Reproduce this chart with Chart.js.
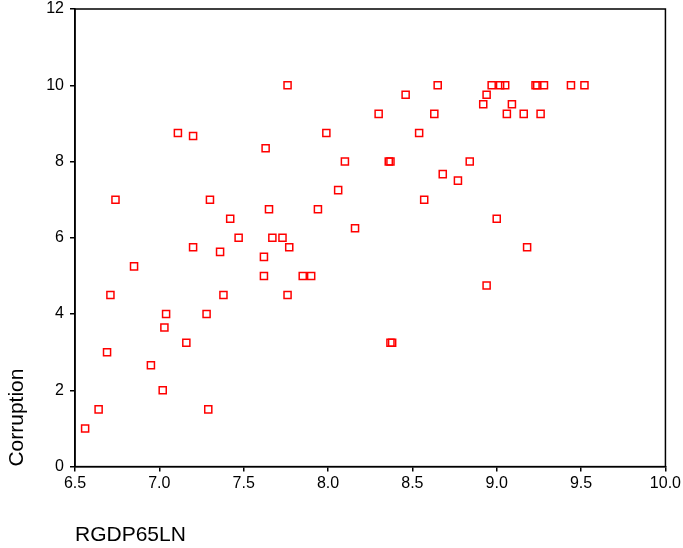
<!DOCTYPE html>
<html>
<head>
<meta charset="utf-8">
<script src="https://cdn.jsdelivr.net/npm/chart.js@4"></script>
<style>
  html,body{margin:0;padding:0;background:#fff;}
  #wrap{width:683px;height:548px;}
</style>
</head>
<body>
<div id="wrap"><canvas id="scatter"></canvas></div>
<script>
// RGDP65LN (x) vs Corruption (y)
const gdp = [6.56, 6.64, 6.69, 6.71, 6.74, 6.85, 6.95, 7.02, 7.03, 7.04, 7.11, 7.16, 7.20, 7.20,
  7.28, 7.29, 7.30, 7.36, 7.38, 7.42, 7.47, 7.62, 7.62, 7.63, 7.65, 7.67, 7.73, 7.76, 7.76, 7.77,
  7.85, 7.90, 7.94, 7.99, 8.06, 8.10, 8.16, 8.30, 8.36, 8.37, 8.37, 8.38, 8.46, 8.54, 8.57, 8.63,
  8.65, 8.68, 8.77, 8.84, 8.92, 8.94, 8.94, 8.97, 9.00, 9.02, 9.05, 9.06, 9.09, 9.16, 9.18, 9.23,
  9.24, 9.26, 9.28, 9.44, 9.52];
const corruption = [1.0, 1.5, 3.0, 4.5, 7.0, 5.25, 2.66, 2.0, 3.65, 4.0, 8.75, 3.25, 8.67, 5.75,
  4.0, 1.5, 7.0, 5.63, 4.5, 6.5, 6.0, 5.5, 5.0, 8.35, 6.75, 6.0, 6.0, 10.0, 4.5, 5.75,
  5.0, 5.0, 6.75, 8.75, 7.25, 8.0, 6.25, 9.25, 8.0, 8.0, 3.25, 3.25, 9.75, 8.75, 7.0, 9.25,
  10.0, 7.67, 7.5, 8.0, 9.5, 9.75, 4.75, 10.0, 6.5, 10.0, 10.0, 9.25, 9.5, 9.25, 5.75, 10.0,
  10.0, 9.25, 10.0, 10.0, 10.0];
const xTicks = [6.5, 7.0, 7.5, 8.0, 8.5, 9.0, 9.5, 10.0];
const yTicks = [0, 2, 4, 6, 8, 10, 12];

const pts = gdp.map((g, i) => ({x: g, y: corruption[i]}));

// box round the plot area
const frame = {
  id: 'frame',
  afterDraw(chart) {
    const a = chart.chartArea, ctx = chart.ctx;
    ctx.save();
    ctx.strokeStyle = '#000';
    ctx.lineWidth = 1.5;
    ctx.strokeRect(a.left, a.top, a.right - a.left, a.bottom - a.top);
    ctx.restore();
  }
};

const font = 'Liberation Sans, Arial, sans-serif';

new Chart('scatter', {
  type: 'scatter',
  data: {
    datasets: [{
      data: pts,
      pointStyle: 'rect',
      pointRadius: 5,
      pointHoverRadius: 5,
      borderColor: '#ff0000',
      backgroundColor: 'rgba(0,0,0,0)',
      borderWidth: 1.5
    }]
  },
  options: {
    responsive: true,
    maintainAspectRatio: false,
    animation: false,
    layout: {padding: {left: 5, right: 2, top: 0, bottom: 0}},
    plugins: {legend: {display: false}, tooltip: {enabled: false}},
    scales: {
      x: {
        type: 'linear', min: 6.5, max: 10,
        afterBuildTicks: s => { s.ticks = xTicks.map(v => ({value: v})); },
        ticks: {color: '#000', font: {family: font, size: 16}, padding: 2,
          callback: v => v.toFixed(1), maxRotation: 0},
        grid: {drawOnChartArea: false, color: '#000', tickLength: 5, lineWidth: 1.5},
        border: {color: '#000', width: 1.5},
        title: {display: true, text: 'RGDP65LN', align: 'start', color: '#000',
          font: {family: font, size: 21}, padding: {top: 28, bottom: 0}}
      },
      y: {
        type: 'linear', min: 0, max: 12,
        afterBuildTicks: s => { s.ticks = yTicks.map(v => ({value: v})); },
        afterFit: s => { s.paddingTop = 9; },
        ticks: {color: '#000', font: {family: font, size: 16}, padding: 6},
        grid: {drawOnChartArea: false, color: '#000', tickLength: 5, lineWidth: 1.5},
        border: {color: '#000', width: 1.5},
        title: {display: true, text: 'Corruption', align: 'start', color: '#000',
          font: {family: font, size: 21}, padding: {top: 0, bottom: 10}}
      }
    }
  },
  plugins: [frame]
});
</script>
</body>
</html>
